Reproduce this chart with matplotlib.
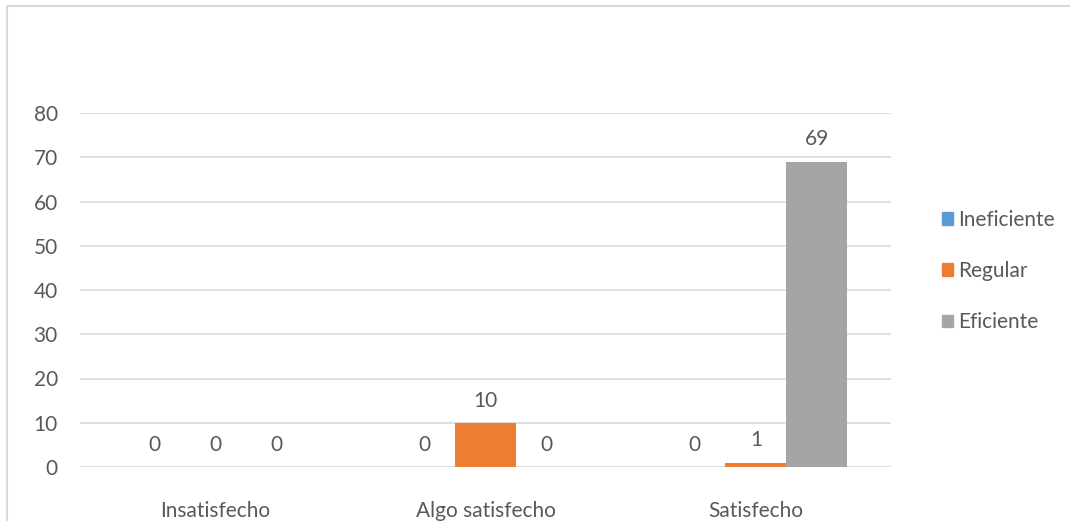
import matplotlib.pyplot as plt
import numpy as np
from matplotlib.patches import Rectangle
from matplotlib.lines import Line2D

plt.rcParams['font.family'] = ['Lato', 'DejaVu Sans']

# Survey data
categories = ['Insatisfecho', 'Algo satisfecho', 'Satisfecho']
series = ['Ineficiente', 'Regular', 'Eficiente']
ineficiente = [0, 0, 0]
regular = [0, 10, 1]
eficiente = [0, 0, 69]
yticks = [0, 10, 20, 30, 40, 50, 60, 70, 80]

colors = ['#5B9BD5', '#ED7D31', '#A5A5A5']
text_color = '#595959'
grid_color = '#D9D9D9'
fs = 15

fig = plt.figure(figsize=(10.7, 5.21), dpi=100)
ax = fig.add_axes([80 / 1070, 54 / 521, 811 / 1070, 354 / 521])

x = np.arange(len(categories))
width = 0.226
for i, (name, vals, c) in enumerate(zip(series, [ineficiente, regular, eficiente], colors)):
    pos = x + (i - 1) * width
    ax.bar(pos, vals, width, color=c, label=name, zorder=3)
    for xb, v in zip(pos, vals):
        ax.annotate(str(v), (xb, v), xytext=(0, 16), textcoords='offset points',
                    ha='center', va='center', fontsize=fs, color=text_color)

ax.set_xlim(-0.5, 2.5)
ax.set_ylim(0, 80)
ax.set_yticks(yticks)
ax.set_xticks(x)
ax.set_xticklabels(categories)
ax.yaxis.grid(True, color=grid_color, linewidth=1.2, zorder=0)
ax.tick_params(axis='both', length=0, colors=text_color, labelsize=fs)
ax.tick_params(axis='x', pad=24.5)
ax.tick_params(axis='y', pad=16)
for s in ax.spines.values():
    s.set_visible(False)

# legend on the right
handles = [Rectangle((0, 0), 1, 1, color=c) for c in colors]
fig.legend(handles, series, loc='center left', bbox_to_anchor=(925 / 1070, 250 / 521),
           frameon=False, fontsize=fs, labelspacing=1.5, handlelength=0.55,
           handleheight=0.55, handletextpad=0.25, labelcolor=text_color,
           borderpad=0.3)

# chart area border (top and left)
fig.add_artist(Line2D([7 / 1070, 7 / 1070], [0, 1 - 6 / 521], color=grid_color,
                      linewidth=1.5, transform=fig.transFigure))
fig.add_artist(Line2D([7 / 1070, 1], [1 - 6 / 521, 1 - 6 / 521], color=grid_color,
                      linewidth=1.5, transform=fig.transFigure))

fig.savefig('out.png', dpi=100)
